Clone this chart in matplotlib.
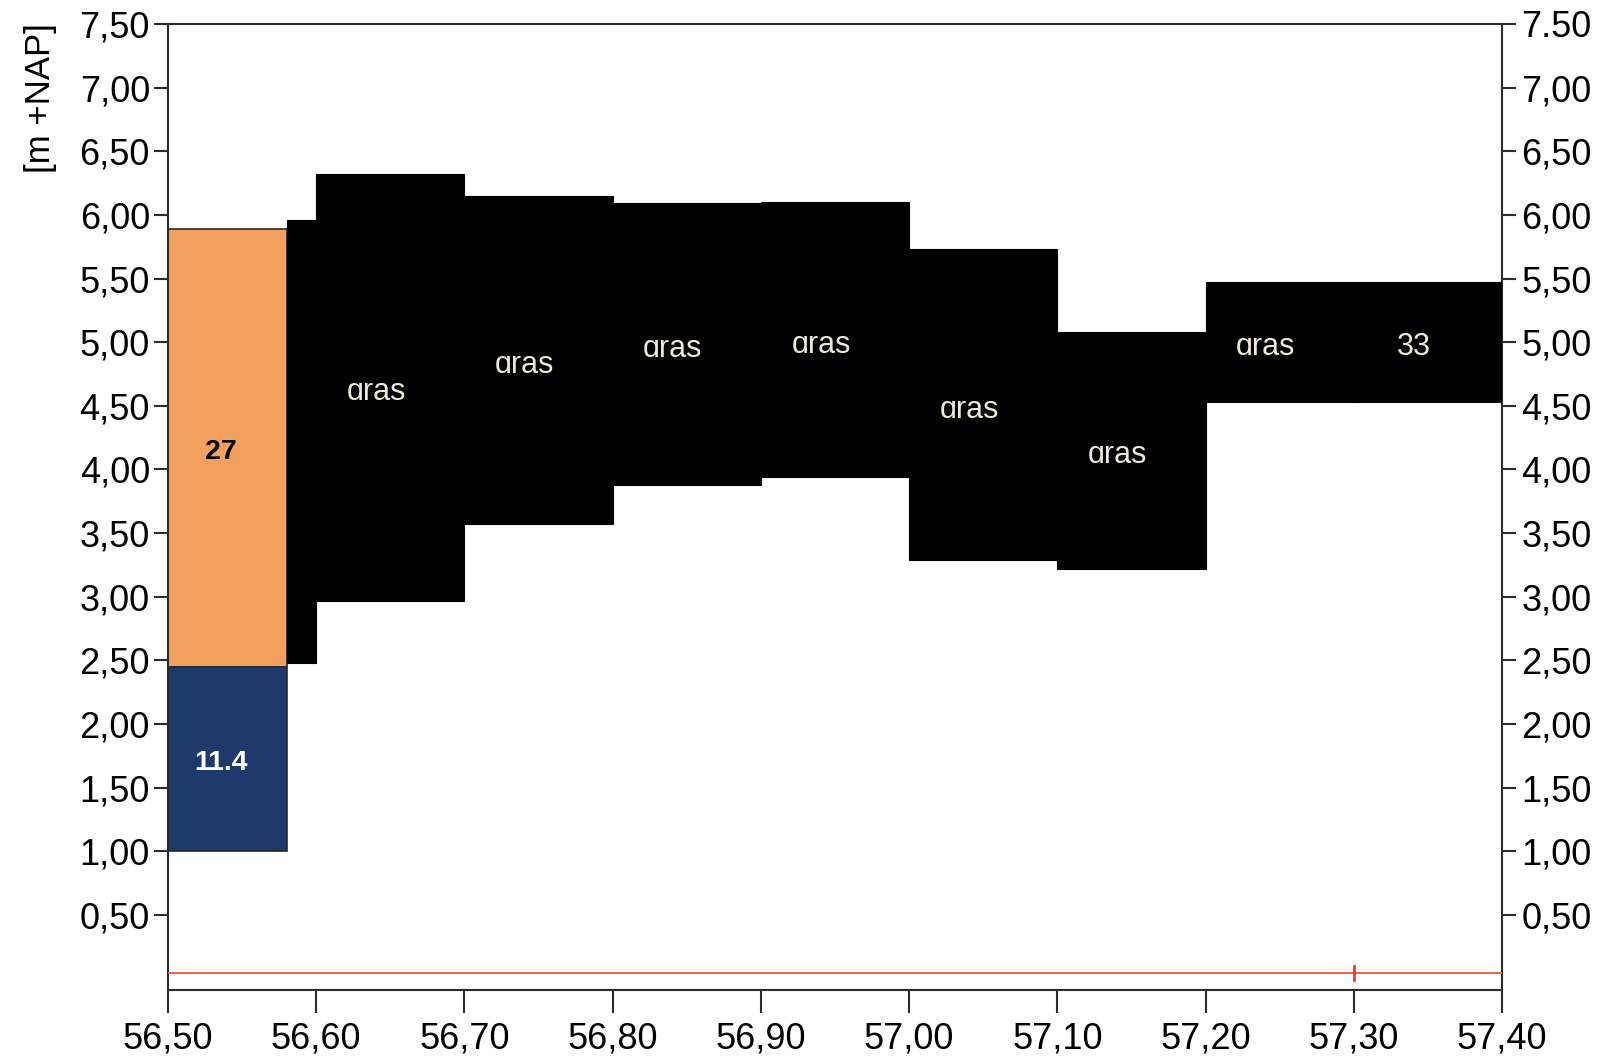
import matplotlib
matplotlib.use('Agg')
import matplotlib.pyplot as plt
from matplotlib.patches import Rectangle
from matplotlib.transforms import offset_copy
import numpy as np

plt.rcParams['font.family'] = ['Liberation Sans', 'DejaVu Sans']

# coloured soil layers at the left edge: (x0, x1, y_bottom, y_top, label)
layer_x0 = [56.50, 56.50]
layer_x1 = [56.58, 56.58]
layer_bot = [2.45, 1.00]
layer_top = [5.89, 2.45]
layer_lbl = ["27", "11.4"]
layer_col = ["#f4a05e", "#1e3a6c"]
layer_txt = ["black", "white"]

# black blocks (gras)
blk_x0 = [56.58, 56.60, 56.70, 56.80, 56.90, 57.00, 57.10, 57.20, 57.30]
blk_x1 = [56.60, 56.70, 56.80, 56.90, 57.00, 57.10, 57.20, 57.30, 57.40]
blk_bot = [2.48, 2.97, 3.57, 3.88, 3.94, 3.29, 3.22, 4.53, 4.53]
blk_top = [5.96, 6.32, 6.15, 6.09, 6.10, 5.73, 5.08, 5.47, 5.47]
blk_lbl = ["", "ɑras", "ɑras", "ɑras", "ɑras", "ɑras", "ɑras", "ɑras", "33"]

red_y = 0.045
red_mark_x = 57.30

x_ticks = np.round(np.arange(56.50, 57.401, 0.10), 2)
y_ticks = np.round(np.arange(0.50, 7.501, 0.50), 2)

fig = plt.figure(figsize=(16.23, 10.60), dpi=100)
ax = fig.add_axes([0.1035, 0.066, 0.822, 0.9114])

for x0, x1, b, t, lbl, c, tc in zip(layer_x0, layer_x1, layer_bot, layer_top,
                                    layer_lbl, layer_col, layer_txt):
    ax.add_patch(Rectangle((x0, b), x1 - x0, t - b, facecolor=c,
                           edgecolor="#2a2a2a", linewidth=1.2, zorder=2))
    tr = offset_copy(ax.transData, fig=fig, x=-6, y=-4, units='dots')
    ax.text((x0 + x1) / 2, (b + t) / 2, lbl, color=tc, fontsize=20.5,
            fontweight='bold', ha='center', va='center', transform=tr, zorder=4)

for x0, x1, b, t, lbl in zip(blk_x0, blk_x1, blk_bot, blk_top, blk_lbl):
    ax.add_patch(Rectangle((x0, b), x1 - x0, t - b, facecolor="black",
                           edgecolor="black", linewidth=0.8, zorder=3))
    if lbl:
        tr = offset_copy(ax.transData, fig=fig, x=-14, y=-5, units='dots')
        ax.text((x0 + x1) / 2, (b + t) / 2, lbl, color="#efead8", fontsize=22,
                ha='center', va='center', transform=tr, zorder=4)

ax.plot([x_ticks[0], x_ticks[-1]], [red_y, red_y], color="#f0553a",
        linewidth=1.3, zorder=3)
ax.plot([red_mark_x, red_mark_x], [red_y - 0.055, red_y + 0.055],
        color="#e8402a", linewidth=2.0, zorder=3)

ax.set_xlim(56.50, 57.40)
ax.set_ylim(-0.09, 7.50)

ax.set_xticks(x_ticks)
ax.set_xticklabels([f"{v:.2f}".replace(".", ",") for v in x_ticks])
ax.set_yticks(y_ticks)
ax.set_yticklabels([f"{v:.2f}".replace(".", ",") for v in y_ticks])

for s in ax.spines.values():
    s.set_color("#2a2e28")
    s.set_linewidth(1.5)

ax.tick_params(axis='x', direction='out', length=16.5, width=1.5,
               color="#2a2e28", labelsize=26, pad=6)
ax.tick_params(axis='y', direction='out', length=10, width=1.5,
               color="#2a2e28", labelsize=26, pad=3)

ax2 = ax.twinx()
ax2.set_ylim(ax.get_ylim())
ax2.set_yticks(y_ticks)
right_lbls = [f"{v:.2f}".replace(".", ",") for v in y_ticks]
right_lbls[-1] = f"{y_ticks[-1]:.2f}"
ax2.set_yticklabels(right_lbls)
ax2.tick_params(axis='y', direction='out', length=10, width=1.5,
                color="#2a2e28", labelsize=26, pad=4)
for s in ax2.spines.values():
    s.set_visible(False)

fig.text(0.025, 0.978, "[m +NAP]", rotation=90, ha='center', va='top',
         fontsize=25)

fig.savefig("out.png", dpi=100)
